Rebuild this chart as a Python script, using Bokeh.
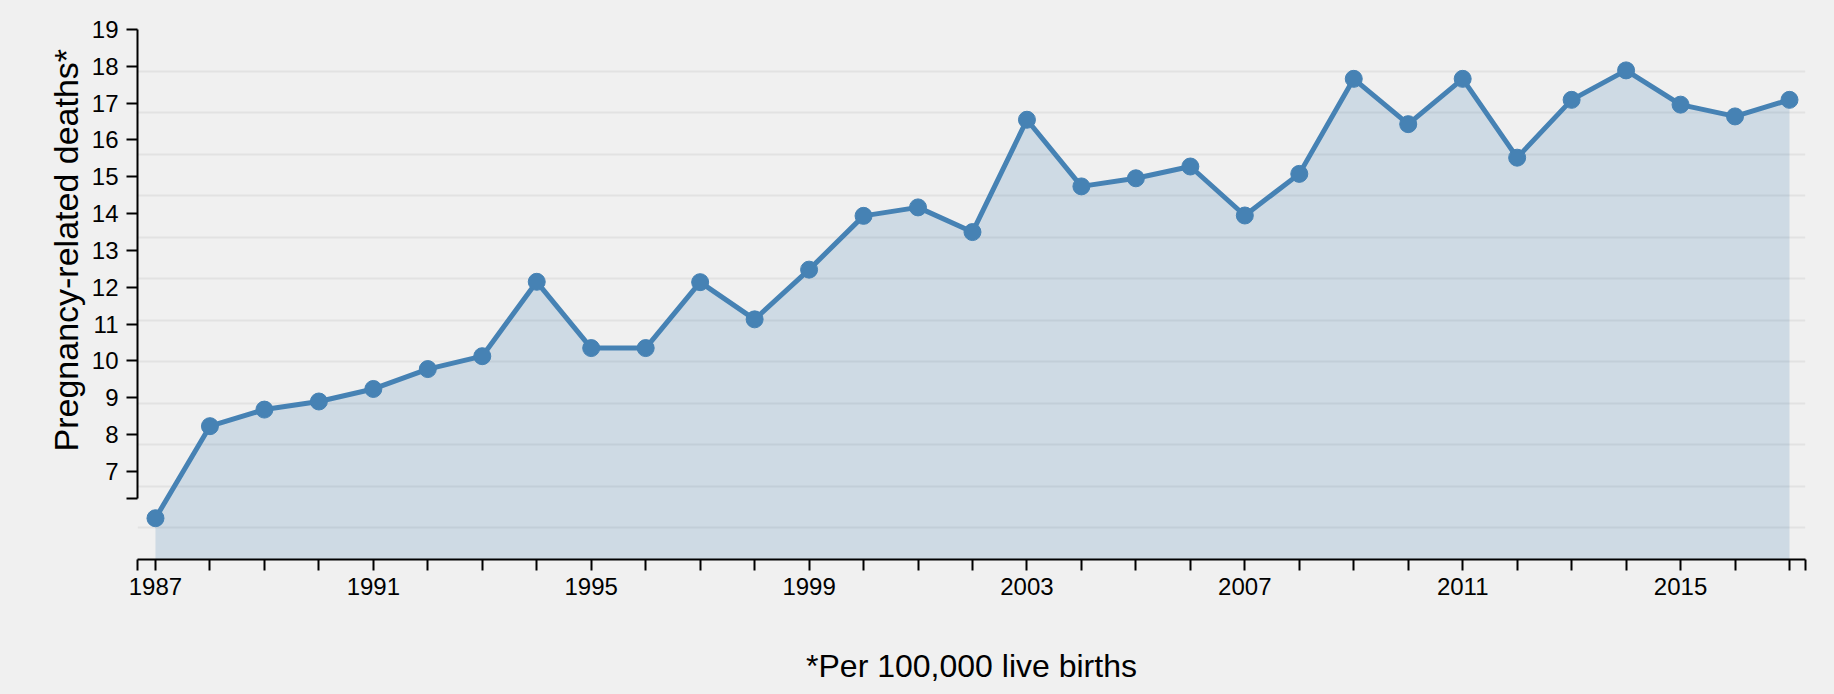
from bokeh.plotting import figure
from bokeh.models import FixedTicker, CustomJSTickFormatter, Range1d, Grid, Title
from bokeh.embed import file_html
from bokeh.resources import INLINE

# ---- data ----
years = [1987, 1988, 1989, 1990, 1991, 1992, 1993, 1994, 1995, 1996,
         1997, 1998, 1999, 2000, 2001, 2002, 2003, 2004, 2005, 2006,
         2007, 2008, 2009, 2010, 2011, 2012, 2013, 2014, 2015, 2016, 2017]
deaths = [5.73, 8.23, 8.68, 8.90, 9.24, 9.78, 10.13, 12.15, 10.35, 10.35,
          12.14, 11.13, 12.48, 13.94, 14.17, 13.50, 16.55, 14.74, 14.96, 15.28,
          13.95, 15.08, 17.66, 16.43, 17.66, 15.52, 17.09, 17.89, 16.96, 16.64, 17.09]
y_ticks = [7, 8, 9, 10, 11, 12, 13, 14, 15, 16, 17, 18, 19]
x_label_years = [1987, 1991, 1995, 1999, 2003, 2007, 2011, 2015]
y_title = "Pregnancy-related deaths*"
footnote = "*Per 100,000 live births"

# ---- layout constants ----
W, H = 1834, 694
BL, BR, BT, BB = 137, 29, 29, 135
X0, X1 = 1986.67, 2017.294
Y0, Y1 = 4.61, 19.0
Y_AXIS_LOW = 6.26
BG = "#f0f0f0"
BLUE = "#4682b4"
FONT = "Liberation Sans"

p = figure(width=W, height=H, output_backend="svg", toolbar_location=None,
           x_range=Range1d(X0, X1), y_range=Range1d(Y0, Y1),
           min_border_left=BL, min_border_right=BR, min_border_top=BT,
           min_border_bottom=BB)
p.background_fill_color = BG
p.border_fill_color = BG
p.outline_line_color = None

# grid (evenly spaced lines, independent of the tick marks)
p.xgrid.visible = False
p.ygrid.visible = False
frame_h = H - BT - BB
step = (Y1 - Y0) * (41.5 / frame_h)
grid_vals = [Y1 - k * step for k in range(13)]
g = Grid(dimension=1, ticker=FixedTicker(ticks=grid_vals),
         grid_line_color="#e2e2e2", grid_line_width=2)
p.add_layout(g)

# area + line + points
baseline = [Y0] * len(years)
p.varea(x=years, y1=baseline, y2=deaths, fill_color=BLUE, fill_alpha=0.2)
p.line(years, deaths, line_color=BLUE, line_width=5)
p.scatter(years, deaths, size=17, fill_color=BLUE, line_color=BLUE)

# x axis
xa = p.xaxis[0]
xa.ticker = FixedTicker(ticks=[X0 + 0.0005] + years + [X1 - 0.0005], minor_ticks=[])
xa.formatter = CustomJSTickFormatter(
    args=dict(lab=x_label_years),
    code="const r = Math.round(tick); return (Math.abs(tick - r) < 1e-6 && lab.includes(r)) ? String(r) : '';")
xa.major_tick_out = 11
xa.major_tick_in = 0
xa.major_tick_line_width = 2
xa.major_tick_line_color = "black"
xa.minor_tick_line_color = None
xa.axis_line_width = 2
xa.axis_line_color = "black"
xa.major_label_standoff = 7
xa.major_label_text_font = FONT
xa.major_label_text_font_size = "24px"
xa.major_label_text_color = "black"
xa.axis_label = footnote
xa.axis_label_text_font = FONT
xa.axis_label_text_font_size = "32px"
xa.axis_label_text_font_style = "normal"
xa.axis_label_text_color = "black"
xa.axis_label_standoff = 50

# y axis
ya = p.yaxis[0]
ya.bounds = (Y_AXIS_LOW, Y1)
ya.ticker = FixedTicker(ticks=[Y_AXIS_LOW] + y_ticks, minor_ticks=[])
ya.formatter = CustomJSTickFormatter(
    code="const r = Math.round(tick); return (Math.abs(tick - r) < 1e-6) ? String(r) : '';")
ya.major_tick_out = 11
ya.major_tick_in = 0
ya.major_tick_line_width = 2
ya.major_tick_line_color = "black"
ya.minor_tick_line_color = None
ya.axis_line_width = 2
ya.axis_line_color = "black"
ya.major_label_standoff = 8
ya.major_label_text_font = FONT
ya.major_label_text_font_size = "24px"
ya.major_label_text_color = "black"

# y title as a side-panel title, started above the frame bottom
t = Title(text=y_title, align="left", offset=108, standoff=7,
          text_font=FONT, text_font_size="34px", text_font_style="normal",
          text_color="black")
p.add_layout(t, "left")

html = file_html(p, INLINE)
html = html.replace("</head>", "<style>html, body { background: #f0f0f0; }</style></head>", 1)
open("out.html", "w").write(html)
